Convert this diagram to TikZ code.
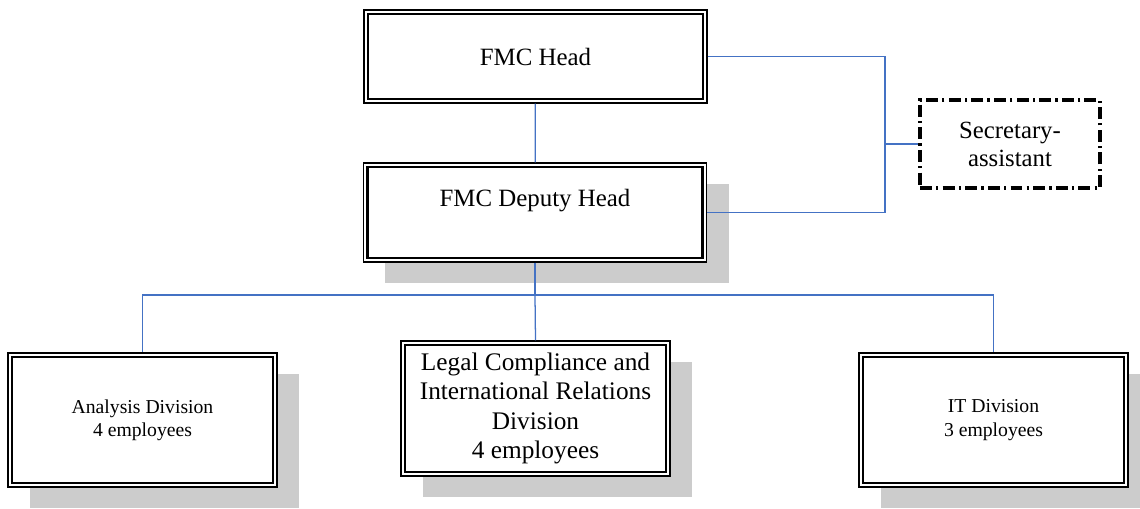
\documentclass[tikz,border=0pt]{standalone}
\usepackage{fontspec}
\setmainfont{Liberation Serif}
\usetikzlibrary{shadows}
\definecolor{linkblue}{RGB}{68,114,196}

\begin{document}
\begin{tikzpicture}[x=0.025cm, y=-0.025cm,
  frame/.style={rectangle, draw, line width=0.8pt, fill=white, inner sep=0pt, align=center,
    path picture={\draw[line width=1.6pt]
      ([xshift=0.1cm,yshift=-0.1cm]path picture bounding box.north west) rectangle
      ([xshift=-0.1cm,yshift=0.1cm]path picture bounding box.south east);}},
  shadowed/.style={general shadow={fill=black!20, shadow xshift=0.55cm, shadow yshift=-0.53cm}},
  lead/.style={frame, minimum width=8.575cm, font=\fontsize{17.7}{21}\selectfont},
  division/.style={frame, shadowed, minimum width=6.725cm, minimum height=3.35cm},
  helper/.style={rectangle, draw, line width=2.4pt, dash pattern=on 8.5pt off 3pt on 1.6pt off 3pt,
    minimum width=4.5cm, minimum height=2.2cm, align=center, font=\fontsize{17.6}{20}\selectfont},
  link/.style={draw=linkblue, line width=0.9pt}
]
  \useasboundingbox (0,0) rectangle (1140,508);

  % management
  \node[lead, minimum height=2.325cm] (head) at (535.5,56.5) {FMC Head};
  \node[lead, shadowed, minimum height=2.475cm] (deputy) at (535,212.5) {FMC Deputy Head\\~};
  \node[helper] (sec) at (1010,144) {Secretary-\\assistant};

  % divisions
  \node[division, font=\fontsize{14}{16.5}\selectfont] (analysis) at (142.5,420) {Analysis Division\\4 employees};
  \node[division, minimum height=3.375cm, font=\fontsize{18}{20.8}\selectfont] (legal) at (535.5,408.5)
    {Legal Compliance and\\International Relations\\Division\\4 employees};
  \node[division, font=\fontsize{14}{16.5}\selectfont] (it) at (993.5,420) {IT Division\\3 employees};

  \coordinate (side) at (885,144);
  \coordinate (split) at (535,295);

  \draw[link] (head) -- (deputy);
  \draw[link] (head.east) -| (side) |- (deputy.east);
  \draw[link] (side) -- (sec);
  \draw[link] (deputy.south) -- (split);
  \draw[link] (split) -| (analysis.north);
  \draw[link] (split) -- (legal.north);
  \draw[link] (split) -| (it.north);
\end{tikzpicture}
\end{document}
